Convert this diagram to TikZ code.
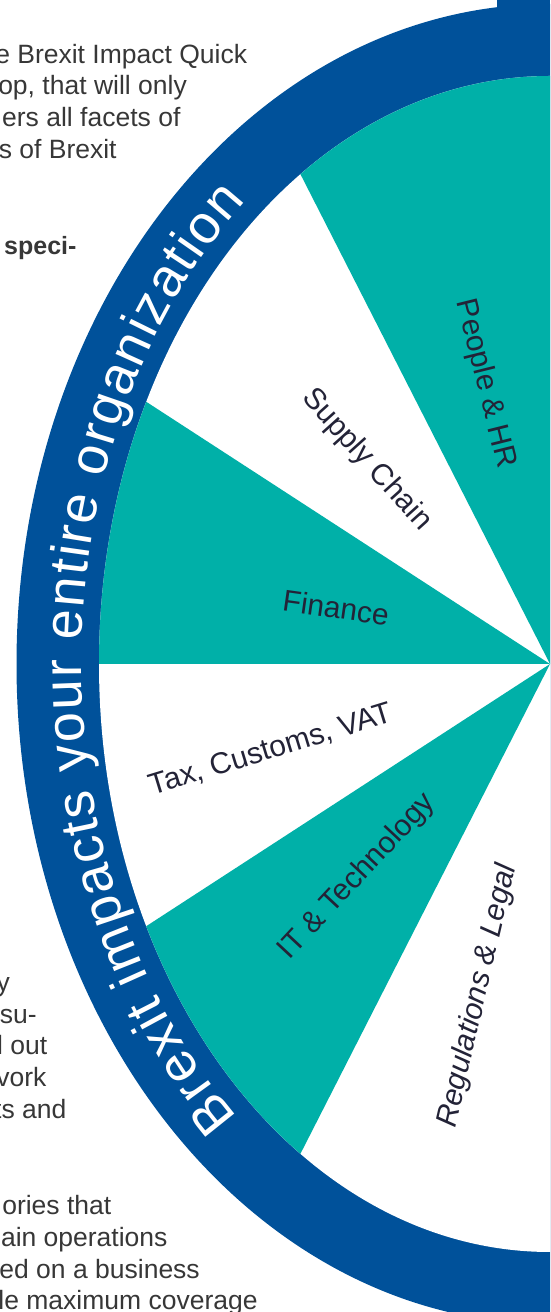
\documentclass[tikz,border=0pt]{standalone}
\usepackage{fontspec}
\setmainfont{Liberation Sans}
\usetikzlibrary{decorations.text}
\definecolor{ringblue}{RGB}{0,81,154}
\definecolor{wedgeteal}{RGB}{0,176,168}
\definecolor{labelink}{RGB}{35,35,55}
\definecolor{bodyink}{RGB}{55,55,55}
\newcommand\ringfont{\fontsize{54}{54}\selectfont}
\begin{document}
\begin{tikzpicture}[x=1pt,y=1pt,
  body/.style={anchor=base east, inner sep=0pt, text=bodyink, font=\fontsize{26.5}{30}\selectfont},
  boldbody/.style={anchor=base east, inner sep=0pt, text=bodyink, font=\fontsize{25}{30}\selectfont\bfseries},
  wedgelabel/.style={inner sep=0pt, text=labelink, font=\fontsize{30}{32}\selectfont},
  wedgeitalic/.style={inner sep=0pt, text=labelink, font=\fontsize{30}{32}\selectfont\itshape}]
\useasboundingbox (0,0) rectangle (550,1312);
\clip (0,0) rectangle (550,1312);
\coordinate (C) at (550,648);
% ring
\fill[ringblue] (C) ellipse [x radius=533.5, y radius=660];
\fill[ringblue] (497,1300) rectangle (550,1312);
\fill[white] (C) ellipse [x radius=451, y radius=588];
% wedges
\begin{scope}
\clip (C) ellipse [x radius=451, y radius=588];
\fill[wedgeteal] (C) -- +(117:1000) -- +(60:1000) -- +(0:200) -- cycle;
\fill[wedgeteal] (C) -- +(147:1000) -- +(180:1000) -- cycle;
\fill[wedgeteal] (C) -- +(213:1000) -- +(243:1000) -- cycle;
\end{scope}
% ring text
\path[decorate, decoration={text along path,
   text={|\ringfont|Brexit impacts your entire organization},
   text color=white, text align={fit to path}}]
   (C) ++(228.1:468.3 and 609) arc[start angle=228.1, end angle=130.5, x radius=468.3, y radius=609];
% wedge labels
\node[wedgelabel, rotate=-76] (people) at (485,928) {People \& HR};
\node[wedgelabel, rotate=-48] (supply) at (366.5,852) {Supply Chain};
\node[wedgelabel, rotate=-8] (finance) at (336,704.5) {Finance};
\node[wedgelabel, rotate=17] (tax) at (271,562) {Tax, Customs, VAT};
\node[wedgelabel, rotate=47] (it) at (357,435) {IT \& Technology};
\node[wedgeitalic, rotate=77] (reg) at (478,316) {Regulations \& Legal};
% body text fragments
\node[body] (t1) at (247.3,1248.7) {e Brexit Impact Quick};
\node[body] (t2) at (187,1217.7) {op, that will only};
\node[body] (t3) at (180.6,1185.3) {ers all facets of};
\node[body] (t4) at (116.8,1153.7) {s of Brexit};
\node[boldbody] (t5) at (76.7,1057) {speci-};
\node[body] (b1) at (10,320.4) {y};
\node[body] (b2) at (36.8,288.7) {su-};
\node[body] (b3) at (47.4,257) {l out};
\node[body] (b4) at (46.6,225.3) {vork};
\node[body] (b5) at (66.6,193.7) {ts and};
\node[body] (b6) at (111.5,97) {ories that};
\node[body] (b7) at (167.7,65.3) {nain operations};
\node[body] (b8) at (200,33.7) {ed on a business};
\node[body] (b9) at (257.8,2) {le maximum coverage};
\end{tikzpicture}
\end{document}
